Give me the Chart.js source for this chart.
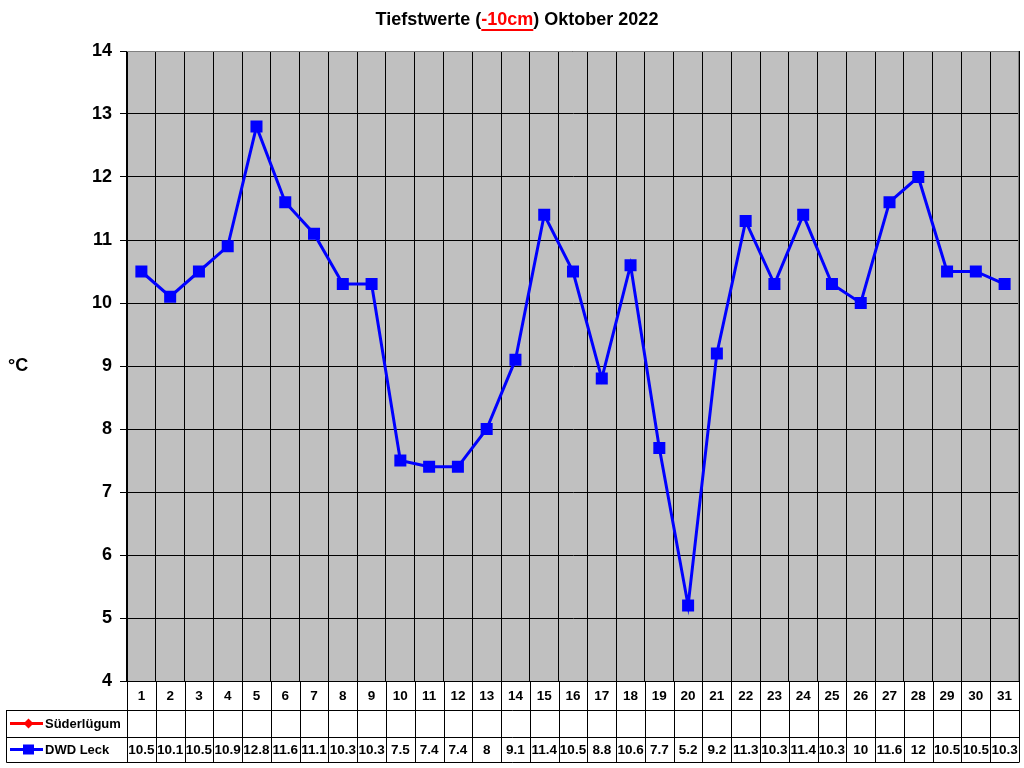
<!DOCTYPE html>
<html>
<head>
<meta charset="utf-8">
<script src="https://cdn.jsdelivr.net/npm/chart.js@4.4.0/dist/chart.umd.min.js"></script>
<style>
  html, body { margin:0; padding:0; background:#fff; }
  #wrap { width:1024px; height:768px; }
</style>
</head>
<body>
<div id="wrap"><canvas id="chart" width="1024" height="768"></canvas></div>
<script>
const days = ['1','2','3','4','5','6','7','8','9','10','11','12','13','14','15','16',
  '17','18','19','20','21','22','23','24','25','26','27','28','29','30','31'];
const suederluegum = days.map(() => null);
const dwdLeck = [10.5, 10.1, 10.5, 10.9, 12.8, 11.6, 11.1, 10.3, 10.3, 7.5, 7.4, 7.4, 8, 9.1, 11.4,
  10.5, 8.8, 10.6, 7.7, 5.2, 9.2, 11.3, 10.3, 11.4, 10.3, 10, 11.6, 12, 10.5, 10.5, 10.3];
const yTicks = [4, 5, 6, 7, 8, 9, 10, 11, 12, 13, 14];

const FONT = '"Liberation Sans", Arial, sans-serif';

// title with the red underlined part, the °C label, plot frame and data table
const extras = {
  id: 'extras',
  beforeDatasetsDraw(chart) {
    const { ctx, chartArea: a } = chart;
    ctx.save();
    ctx.strokeStyle = '#808080';
    ctx.lineWidth = 1;
    ctx.beginPath();
    ctx.moveTo(a.left, a.top + 0.5);
    ctx.lineTo(a.right - 0.5, a.top + 0.5);
    ctx.lineTo(a.right - 0.5, a.bottom);
    ctx.stroke();
    ctx.restore();
  },
  afterDraw(chart) {
    const { ctx, chartArea: a } = chart;
    const x = chart.scales.x;
    ctx.save();

    // title
    const parts = [['Tiefstwerte (', '#000'], ['-10cm', '#ff0000'], [') Oktober 2022', '#000']];
    ctx.font = 'bold 18px ' + FONT;
    ctx.textBaseline = 'middle';
    ctx.textAlign = 'left';
    const total = parts.reduce((s, p) => s + ctx.measureText(p[0]).width, 0);
    let tx = 517 - total / 2;
    parts.forEach(([t, c]) => {
      const w = ctx.measureText(t).width;
      ctx.fillStyle = c;
      ctx.fillText(t, tx, 20);
      if (c !== '#000') {
        ctx.fillRect(tx, 29, w, 2);
      }
      tx += w;
    });

    // unit label
    ctx.fillStyle = '#000';
    ctx.font = 'bold 18px ' + FONT;
    ctx.fillText('°C', 8, 366);

    // data table
    const rows = [a.bottom, 710, 737, 762];
    const colW = x.width / days.length;
    ctx.strokeStyle = '#000';
    ctx.lineWidth = 1;
    ctx.beginPath();
    rows.forEach((y, i) => {
      ctx.moveTo(i === 0 ? a.left : 6.5, y + 0.5);
      ctx.lineTo(a.right, y + 0.5);
    });
    ctx.moveTo(6.5, rows[1]); ctx.lineTo(6.5, rows[3] + 0.5);
    for (let i = 0; i <= days.length; i++) {
      const cx = Math.round(a.left + i * colW) + 0.5;
      ctx.moveTo(cx, rows[0]); ctx.lineTo(cx, rows[3] + 0.5);
    }
    ctx.stroke();

    ctx.textAlign = 'center';
    ctx.font = 'bold 13.5px ' + FONT;
    days.forEach((d, i) => {
      const cx = x.getPixelForValue(i);
      ctx.fillText(d, cx, (rows[0] + rows[1]) / 2 + 1);
      if (suederluegum[i] != null) ctx.fillText(String(suederluegum[i]), cx, (rows[1] + rows[2]) / 2 + 1);
      if (dwdLeck[i] != null) ctx.fillText(String(dwdLeck[i]), cx, (rows[2] + rows[3]) / 2 + 1);
    });

    // legend keys
    const keys = [['Süderlügum', '#ff0000', 'diamond', (rows[1] + rows[2]) / 2],
                  ['DWD Leck', '#0000ff', 'square', (rows[2] + rows[3]) / 2]];
    keys.forEach(([label, col, shape, y]) => {
      ctx.strokeStyle = col;
      ctx.fillStyle = col;
      ctx.lineWidth = 3;
      ctx.beginPath();
      ctx.moveTo(10, y); ctx.lineTo(43, y);
      ctx.stroke();
      if (shape === 'square') {
        ctx.fillRect(23, y - 5, 11, 10);
      } else {
        ctx.beginPath();
        ctx.moveTo(28.5, y - 5); ctx.lineTo(33.5, y); ctx.lineTo(28.5, y + 5); ctx.lineTo(23.5, y);
        ctx.closePath(); ctx.fill();
      }
      ctx.fillStyle = '#000';
      ctx.textAlign = 'left';
      ctx.font = 'bold 13px ' + FONT;
      ctx.fillText(label, 45, y + 1);
    });
    ctx.restore();
  }
};

const plotBg = {
  id: 'plotBg',
  beforeDraw(chart) {
    const { ctx, chartArea: a } = chart;
    ctx.save();
    ctx.fillStyle = '#c0c0c0';
    ctx.fillRect(a.left, a.top, a.right - a.left, a.bottom - a.top);
    ctx.restore();
  }
};

new Chart(document.getElementById('chart'), {
  type: 'line',
  data: {
    labels: days,
    datasets: [
      {
        label: 'Süderlügum',
        data: suederluegum,
        borderColor: '#ff0000',
        backgroundColor: '#ff0000',
        borderWidth: 3,
        pointStyle: 'rectRot',
        pointRadius: 6
      },
      {
        label: 'DWD Leck',
        data: dwdLeck,
        borderColor: '#0000ff',
        backgroundColor: '#0000ff',
        borderWidth: 3,
        pointStyle: 'rect',
        pointRadius: 8.5,
        pointBorderWidth: 0,
        tension: 0
      }
    ]
  },
  options: {
    responsive: false,
    animation: false,
    devicePixelRatio: 1,
    layout: { autoPadding: false, padding: { top: 51, right: 5, bottom: 87, left: 0 } },
    plugins: {
      legend: { display: false },
      title: { display: false },
      tooltip: { enabled: false }
    },
    scales: {
      x: {
        offset: true,
        grid: { offset: true, color: '#000', lineWidth: 1, drawTicks: false },
        border: { color: '#000' },
        ticks: { display: false },
        afterFit(s) { s.height = 0; }
      },
      y: {
        min: 4,
        max: 14,
        afterBuildTicks(s) { s.ticks = yTicks.map(v => ({ value: v })); },
        afterFit(s) { s.width = 127; },
        grid: { color: '#000', lineWidth: 1, tickLength: 7 },
        border: { color: '#000' },
        ticks: {
          color: '#000',
          padding: 8,
          font: { family: FONT, size: 18, weight: 'bold' }
        }
      }
    }
  },
  plugins: [plotBg, extras]
});
</script>
</body>
</html>
